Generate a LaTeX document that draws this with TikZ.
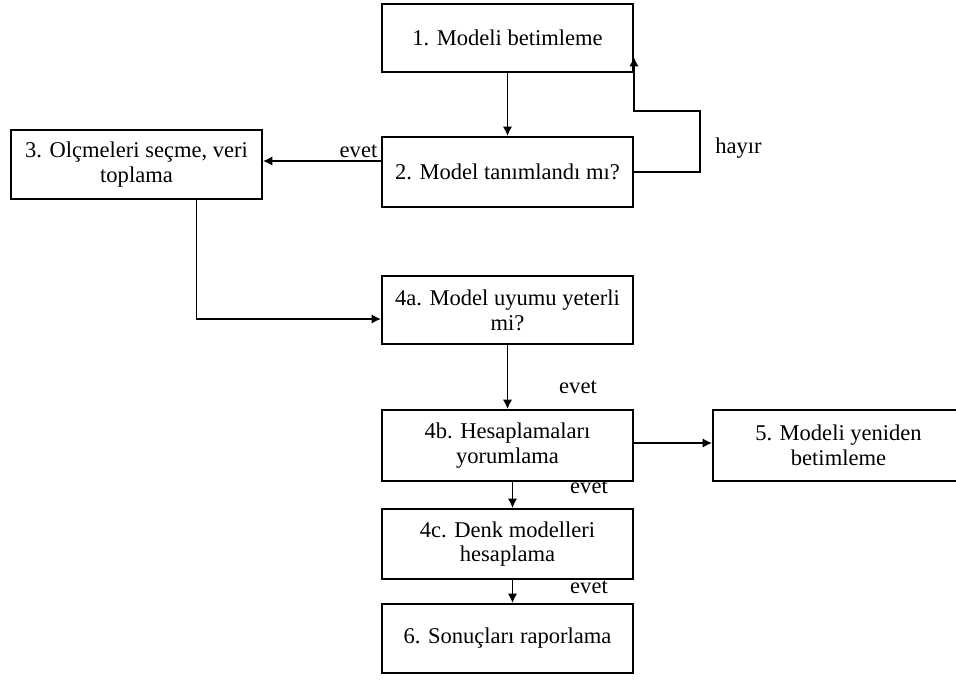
\documentclass[tikz,border=0pt]{standalone}
\usepackage{fontspec}
\setmainfont{Liberation Serif}
\usetikzlibrary{arrows.meta,calc}
\tikzset{
  stepbox/.style={draw, line width=1.4pt, rectangle, inner sep=0pt,
    minimum width=188.25pt, align=center,
    font=\fontsize{16.9}{18.6}\selectfont},
  arr/.style={draw, line width=1.4pt, -{Latex[length=7pt,width=7pt]}},
  lbl/.style={inner sep=0pt, font=\fontsize{16.9}{18.6}\selectfont}
}
\begin{document}
\begin{tikzpicture}[x=0.75pt,y=-0.75pt]
  \clip (0,0) rectangle (956,679);
  \fill[white] (0,0) rectangle (956,679);

  % process boxes
  \node[stepbox, minimum height=51pt]   (B1)  at (507.5,38)    {1. Modeli betimleme};
  \node[stepbox, minimum height=52.5pt] (B2)  at (507.5,172)   {2. Model tanımlandı mı?};
  \node[stepbox, minimum height=51.75pt](B3)  at (136.5,164.5) {3. Olçmeleri seçme, veri\\toplama};
  \node[stepbox, minimum height=51pt]   (B4a) at (507.5,310)   {4a. Model uyumu yeterli\\mi?};
  \node[stepbox, minimum height=53.25pt](B4b) at (507.5,445.5) {4b. Hesaplamaları\\yorumlama};
  \node[stepbox, minimum height=53.25pt](B5)  at (838.5,445.5) {5. Modeli yeniden\\betimleme};
  \node[stepbox, minimum height=52.5pt] (B4c) at (507.5,544)   {4c. Denk modelleri\\hesaplama};
  \node[stepbox, minimum height=51.75pt](B6)  at (507.5,638.5) {6. Sonuçları raporlama};

  % connectors
  \draw[arr] (B1.south) -- (B2.north);
  \coordinate (yesStart) at ($(B2.west)+(0,-11)$);
  \draw[arr] (yesStart) -- (yesStart -| B3.east);
  \coordinate (loopTop) at (700,111);
  \coordinate (loopEnd) at ($(B1.south east)+(0,-16)$);
  \draw[arr] (B2.east) -| (loopTop) -| (loopEnd);
  \draw[arr] ($(B3.south)+(60,0)$) |- ($(B4a.west)+(0,9)$);
  \draw[arr] (B4a.south) -- (B4b.north);
  \draw[arr] ($(B4b.east)+(0,-2.5)$) -- ($(B5.west)+(0,-2.5)$);
  \draw[arr] ($(B4b.south)+(5,0)$) -- ($(B4c.north)+(5,0)$);
  \draw[arr] ($(B4c.south)+(5,0)$) -- ($(B6.north)+(5,0)$);

  % branch labels
  \node[lbl] (l1) at (358.5,151) {evet};
  \node[lbl] (l2) at (738.5,148) {hayır};
  \node[lbl] (l3) at (578,387)   {evet};
  \node[lbl] (l4) at (589,487)   {evet};
  \node[lbl] (l5) at (589,587)   {evet};
\end{tikzpicture}
\end{document}
